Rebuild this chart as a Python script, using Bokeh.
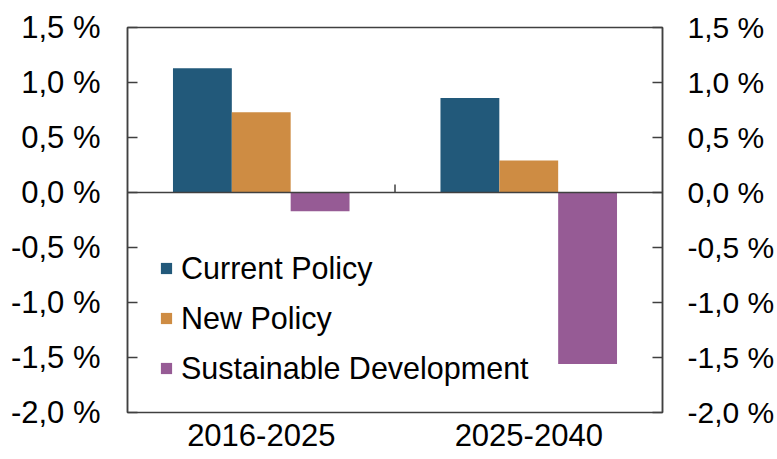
from bokeh.plotting import figure
from bokeh.models import (ColumnDataSource, FactorRange, Range1d, LinearAxis, FixedTicker,
                          CustomJSTickFormatter, Legend, LegendItem, Span)
from bokeh.transform import dodge
from bokeh.embed import file_html
from bokeh.resources import INLINE

# ---- data ----
periods = ["2016-2025", "2025-2040"]
current_policy = [1.13, 0.86]
new_policy = [0.73, 0.29]
sustainable_dev = [-0.17, -1.56]
series_names = ["Current Policy", "New Policy", "Sustainable Development"]
y_ticks = [-2.0, -1.5, -1.0, -0.5, 0.0, 0.5, 1.0, 1.5]

colors = ["#22597A", "#CE8C43", "#965B95"]
FONT = "Liberation Sans"
AX = "#404040"

src = ColumnDataSource(dict(period=periods, cp=current_policy, np_=new_policy, sd=sustainable_dev))

p = figure(width=777, height=458, output_backend="svg", toolbar_location=None,
           x_range=FactorRange(factors=periods), y_range=Range1d(-2.0, 1.5),
           min_border_left=127, min_border_right=115, min_border_top=27, min_border_bottom=46)
p.xgrid.visible = False
p.ygrid.visible = False
p.outline_line_color = AX
p.outline_line_width = 1.5
p.background_fill_color = "white"
p.border_fill_color = "white"

bw = 0.22
r1 = p.vbar(x=dodge("period", -bw, range=p.x_range), top="cp", bottom=0, width=bw,
            source=src, fill_color=colors[0], line_color=None)
r2 = p.vbar(x=dodge("period", 0.0, range=p.x_range), top="np_", bottom=0, width=bw,
            source=src, fill_color=colors[1], line_color=None)
r3 = p.vbar(x=dodge("period", bw, range=p.x_range), top="sd", bottom=0, width=bw,
            source=src, fill_color=colors[2], line_color=None)

# zero line + category separator tick
p.add_layout(Span(location=0, dimension="width", line_color=AX, line_width=1.5))
sep = ColumnDataSource(dict(period=[periods[0]], y=[0.0]))
p.ray(x=dodge("period", 0.5, range=p.x_range), y="y", length=8, length_units="screen",
      angle=1.5707963, source=sep, line_color=AX, line_width=1.5)

fmt = CustomJSTickFormatter(code="return tick.toFixed(1).replace('.', ',') + ' %';")

ya = p.yaxis[0]
ya.ticker = FixedTicker(ticks=y_ticks)
ya.formatter = fmt
ya.major_tick_in = 10
ya.major_tick_out = 0
ya.minor_tick_line_color = None
ya.axis_line_color = AX
ya.axis_line_width = 1.5
ya.major_tick_line_color = AX
ya.major_tick_line_width = 1.5
ya.major_label_standoff = 27
ya.major_label_text_font = FONT
ya.major_label_text_font_size = "31px"
ya.major_label_text_color = "black"

ra = LinearAxis(ticker=FixedTicker(ticks=y_ticks), formatter=fmt)
ra.major_tick_in = 10
ra.major_tick_out = 0
ra.minor_tick_line_color = None
ra.axis_line_color = AX
ra.axis_line_width = 1.5
ra.major_tick_line_color = AX
ra.major_tick_line_width = 1.5
ra.major_label_standoff = 25
ra.major_label_text_font = FONT
ra.major_label_text_font_size = "30px"
ra.major_label_text_color = "black"
p.add_layout(ra, "right")

xa = p.xaxis[0]
xa.major_tick_in = 0
xa.major_tick_out = 0
xa.minor_tick_line_color = None
xa.axis_line_color = None
xa.major_label_standoff = 11
xa.major_label_text_font = FONT
xa.major_label_text_font_size = "31px"
xa.major_label_text_color = "black"

legend = Legend(items=[LegendItem(label=series_names[0], renderers=[r1]),
                       LegendItem(label=series_names[1], renderers=[r2]),
                       LegendItem(label=series_names[2], renderers=[r3])],
                location=(32, 19), orientation="vertical",
                glyph_width=14, glyph_height=14, label_standoff=8,
                label_height=50, spacing=0, padding=0, margin=0,
                border_line_color=None, background_fill_alpha=0,
                label_text_font=FONT, label_text_font_size="30.5px", label_text_color="black")
p.add_layout(legend, "center")

open("out.html", "w").write(file_html(p, INLINE))
